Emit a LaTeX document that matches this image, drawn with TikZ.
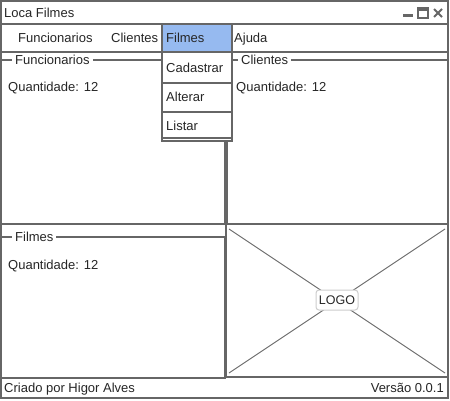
\documentclass[tikz,border=0pt]{standalone}
\usepackage{fontspec}
\setmainfont{Liberation Sans}
\definecolor{wire}{RGB}{102,102,102}
\definecolor{pick}{RGB}{150,186,240}
\definecolor{softline}{RGB}{205,205,205}

\begin{document}
\begin{tikzpicture}[x=1pt,y=-1pt,
  every node/.style={font=\fontsize{13}{15}\selectfont, text=black!85, inner sep=0pt},
  frame/.style={draw=wire, line width=1.3pt},
  thin/.style={draw=wire, line width=0.9pt},
  txt/.style={anchor=west, text height=11.5pt, text depth=3pt},
  legend/.style={txt, fill=white, inner xsep=3pt},
  ]
\useasboundingbox (0,0) rectangle (450,400);
\draw[frame, fill=white] (1,1) rectangle (448,398);
\node[txt] (title) at (4,13) {Loca Filmes};
\fill[wire] (403,14) rectangle (413,17);
\draw[wire, line width=1.2pt] (418,8) rectangle (428,18);
\fill[wire] (418,8) rectangle (428,11);
\draw[wire, line width=1.8pt] (434,9) -- (442,17) (442,9) -- (434,17);
\draw[frame] (1,24) -- (448,24);
\draw[frame] (1,52) -- (448,52);
\draw[frame, fill=pick] (162,24) rectangle (232,52);
\node[txt] (mfunc) at (18,38) {Funcionarios};
\node[txt] (mcli) at (111,38) {Clientes};
\node[txt] (mfilmes) at (166,38) {Filmes};
\node[txt] (majuda) at (234,38) {Ajuda};
% paineis
\draw[frame] (1,60) rectangle (225,224);
\node[legend] (lfunc) at (12,60) {Funcionarios};
\node[txt] (qfunc) at (8,87) {Quantidade: 12};
\draw[frame] (227,60) rectangle (448,224);
\node[legend] (lcli) at (238,60) {Clientes};
\node[txt] (qcli) at (236,87) {Quantidade: 12};
\draw[frame] (1,237) rectangle (225,378);
\node[legend] (lfilmes) at (12,237) {Filmes};
\node[txt] (qfilmes) at (8,265) {Quantidade: 12};
\draw[frame] (226,224) rectangle (448,377);
\coordinate (ca) at (229,229);
\coordinate (cb) at (445,229);
\coordinate (cc) at (445,373);
\coordinate (cd) at (229,373);
\draw[thin] (ca) -- (cc) (cb) -- (cd);
\node[draw=softline, line width=1pt, fill=white, rounded corners=3pt,
  minimum width=42pt, minimum height=20pt, font=\fontsize{12.5}{14}\selectfont] (logo) at (337,300) {LOGO};
% menu aberto
\draw[frame, fill=white] (162,52) rectangle (232,141);
\draw[frame] (162,83) -- (232,83);
\draw[frame] (162,112) -- (232,112);
\draw[frame] (162,138) -- (232,138);
\node[txt] (cad) at (166,68) {Cadastrar};
\node[txt] (alt) at (166,97) {Alterar};
\node[txt] (lis) at (166,126) {Listar};
\node[txt] (autor) at (4,388) {Criado por Higor Alves};
\node[txt, anchor=east] (versao) at (444,388) {Versão 0.0.1};
\end{tikzpicture}
\end{document}
